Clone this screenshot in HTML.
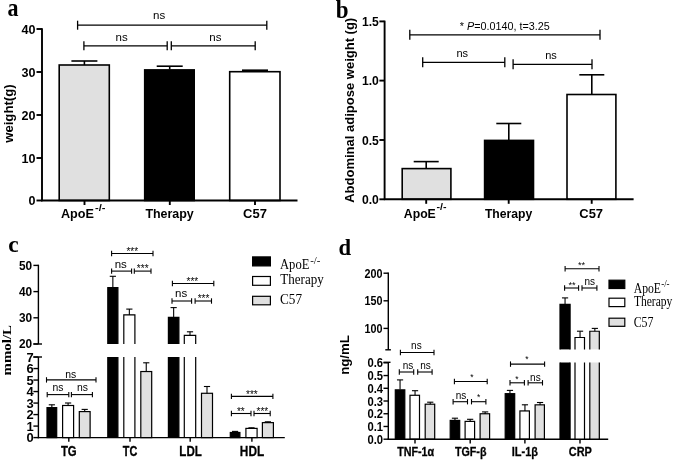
<!DOCTYPE html>
<html><head><meta charset="utf-8"><title>Figure</title>
<style>
html,body{margin:0;padding:0;background:#fff;}
svg{display:block;}
</style></head>
<body>
<svg width="675" height="461" viewBox="0 0 675 461">
<defs><filter id="soft" x="0" y="0" width="675" height="461" filterUnits="userSpaceOnUse"><feGaussianBlur stdDeviation="0.45"/></filter></defs>
<rect width="675" height="461" fill="#fff"/>
<g filter="url(#soft)">
<text x="7.60" y="15.60" font-family='"Liberation Serif", serif' font-size="24.5" font-weight="bold" text-anchor="start" textLength="11.00" lengthAdjust="spacingAndGlyphs" >a</text>
<rect x="59.20" y="65.00" width="50.10" height="135.50" fill="#e0e0e0" stroke="#000" stroke-width="1.6"/>
<rect x="144.70" y="69.90" width="49.50" height="130.60" fill="#000" stroke="#000" stroke-width="1.6"/>
<rect x="229.70" y="71.70" width="50.30" height="128.80" fill="#fff" stroke="#000" stroke-width="1.6"/>
<line x1="84.40" y1="61.00" x2="84.40" y2="65.00" stroke="#000" stroke-width="1.6" stroke-linecap="butt"/>
<line x1="71.40" y1="61.00" x2="97.40" y2="61.00" stroke="#000" stroke-width="1.6" stroke-linecap="butt"/>
<line x1="169.70" y1="66.20" x2="169.70" y2="69.50" stroke="#000" stroke-width="1.6" stroke-linecap="butt"/>
<line x1="156.70" y1="66.20" x2="182.70" y2="66.20" stroke="#000" stroke-width="1.6" stroke-linecap="butt"/>
<line x1="255.00" y1="70.20" x2="255.00" y2="71.70" stroke="#000" stroke-width="1.6" stroke-linecap="butt"/>
<line x1="242.00" y1="70.20" x2="268.00" y2="70.20" stroke="#000" stroke-width="1.6" stroke-linecap="butt"/>
<line x1="42.00" y1="28.25" x2="42.00" y2="201.25" stroke="#000" stroke-width="1.9" stroke-linecap="butt"/>
<line x1="41.25" y1="200.50" x2="297.50" y2="200.50" stroke="#000" stroke-width="1.9" stroke-linecap="butt"/>
<line x1="36.50" y1="29.00" x2="42.00" y2="29.00" stroke="#000" stroke-width="1.9" stroke-linecap="butt"/>
<text x="35.40" y="33.50" font-family='"Liberation Sans", sans-serif' font-size="12.6" font-weight="bold" text-anchor="end" textLength="14.00" lengthAdjust="spacingAndGlyphs" >40</text>
<line x1="36.50" y1="72.00" x2="42.00" y2="72.00" stroke="#000" stroke-width="1.9" stroke-linecap="butt"/>
<text x="35.40" y="76.50" font-family='"Liberation Sans", sans-serif' font-size="12.6" font-weight="bold" text-anchor="end" textLength="14.00" lengthAdjust="spacingAndGlyphs" >30</text>
<line x1="36.50" y1="115.00" x2="42.00" y2="115.00" stroke="#000" stroke-width="1.9" stroke-linecap="butt"/>
<text x="35.40" y="119.50" font-family='"Liberation Sans", sans-serif' font-size="12.6" font-weight="bold" text-anchor="end" textLength="14.00" lengthAdjust="spacingAndGlyphs" >20</text>
<line x1="36.50" y1="158.00" x2="42.00" y2="158.00" stroke="#000" stroke-width="1.9" stroke-linecap="butt"/>
<text x="35.40" y="162.50" font-family='"Liberation Sans", sans-serif' font-size="12.6" font-weight="bold" text-anchor="end" textLength="14.00" lengthAdjust="spacingAndGlyphs" >10</text>
<line x1="36.50" y1="200.50" x2="42.00" y2="200.50" stroke="#000" stroke-width="1.9" stroke-linecap="butt"/>
<text x="35.40" y="205.00" font-family='"Liberation Sans", sans-serif' font-size="12.6" font-weight="bold" text-anchor="end" textLength="7.00" lengthAdjust="spacingAndGlyphs" >0</text>
<line x1="84.50" y1="200.50" x2="84.50" y2="205.00" stroke="#000" stroke-width="1.9" stroke-linecap="butt"/>
<line x1="169.80" y1="200.50" x2="169.80" y2="205.00" stroke="#000" stroke-width="1.9" stroke-linecap="butt"/>
<line x1="255.00" y1="200.50" x2="255.00" y2="205.00" stroke="#000" stroke-width="1.9" stroke-linecap="butt"/>
<text font-family='"Liberation Sans", sans-serif' font-size="12.6" font-weight="bold" text-anchor="middle" textLength="58.50" lengthAdjust="spacingAndGlyphs" transform="translate(13.20 113.60) rotate(-90)" >weight(g)</text>
<text x="61.00" y="218.00" font-family='"Liberation Sans", sans-serif' font-size="13" font-weight="bold" text-anchor="start" textLength="33.00" lengthAdjust="spacingAndGlyphs" >ApoE</text>
<text x="95.00" y="210.60" font-family='"Liberation Sans", sans-serif' font-size="9" font-weight="bold" text-anchor="start" textLength="10.40" lengthAdjust="spacingAndGlyphs" >-/-</text>
<text x="169.60" y="218.00" font-family='"Liberation Sans", sans-serif' font-size="13" font-weight="bold" text-anchor="middle" textLength="48.40" lengthAdjust="spacingAndGlyphs" >Therapy</text>
<text x="255.00" y="218.00" font-family='"Liberation Sans", sans-serif' font-size="13" font-weight="bold" text-anchor="middle" textLength="23.80" lengthAdjust="spacingAndGlyphs" >C57</text>
<line x1="77.60" y1="25.20" x2="266.80" y2="25.20" stroke="#000" stroke-width="1.3" stroke-linecap="butt"/>
<line x1="77.60" y1="20.70" x2="77.60" y2="29.70" stroke="#000" stroke-width="1.3" stroke-linecap="butt"/>
<line x1="266.80" y1="20.70" x2="266.80" y2="29.70" stroke="#000" stroke-width="1.3" stroke-linecap="butt"/>
<text x="159.20" y="19.40" font-family='"Liberation Sans", sans-serif' font-size="11.5" font-weight="normal" text-anchor="middle" >ns</text>
<line x1="83.90" y1="45.80" x2="167.20" y2="45.80" stroke="#000" stroke-width="1.3" stroke-linecap="butt"/>
<line x1="83.90" y1="41.30" x2="83.90" y2="50.30" stroke="#000" stroke-width="1.3" stroke-linecap="butt"/>
<line x1="167.20" y1="41.30" x2="167.20" y2="50.30" stroke="#000" stroke-width="1.3" stroke-linecap="butt"/>
<line x1="171.30" y1="45.80" x2="255.20" y2="45.80" stroke="#000" stroke-width="1.3" stroke-linecap="butt"/>
<line x1="171.30" y1="41.30" x2="171.30" y2="50.30" stroke="#000" stroke-width="1.3" stroke-linecap="butt"/>
<line x1="255.20" y1="41.30" x2="255.20" y2="50.30" stroke="#000" stroke-width="1.3" stroke-linecap="butt"/>
<text x="121.70" y="41.40" font-family='"Liberation Sans", sans-serif' font-size="11.5" font-weight="normal" text-anchor="middle" >ns</text>
<text x="215.40" y="41.40" font-family='"Liberation Sans", sans-serif' font-size="11.5" font-weight="normal" text-anchor="middle" >ns</text>
<text x="335.80" y="18.00" font-family='"Liberation Serif", serif' font-size="24.5" font-weight="bold" text-anchor="start" textLength="12.80" lengthAdjust="spacingAndGlyphs" >b</text>
<rect x="402.20" y="168.60" width="48.70" height="30.70" fill="#e0e0e0" stroke="#000" stroke-width="1.6"/>
<rect x="484.60" y="140.40" width="48.90" height="58.90" fill="#000" stroke="#000" stroke-width="1.6"/>
<rect x="567.00" y="94.50" width="48.90" height="104.80" fill="#fff" stroke="#000" stroke-width="1.6"/>
<line x1="426.20" y1="161.60" x2="426.20" y2="168.60" stroke="#000" stroke-width="1.6" stroke-linecap="butt"/>
<line x1="413.70" y1="161.60" x2="438.70" y2="161.60" stroke="#000" stroke-width="1.6" stroke-linecap="butt"/>
<line x1="508.80" y1="123.50" x2="508.80" y2="140.00" stroke="#000" stroke-width="1.6" stroke-linecap="butt"/>
<line x1="496.30" y1="123.50" x2="521.30" y2="123.50" stroke="#000" stroke-width="1.6" stroke-linecap="butt"/>
<line x1="591.80" y1="74.80" x2="591.80" y2="94.50" stroke="#000" stroke-width="1.6" stroke-linecap="butt"/>
<line x1="579.30" y1="74.80" x2="604.30" y2="74.80" stroke="#000" stroke-width="1.6" stroke-linecap="butt"/>
<line x1="384.60" y1="20.65" x2="384.60" y2="200.05" stroke="#000" stroke-width="1.9" stroke-linecap="butt"/>
<line x1="383.85" y1="199.30" x2="633.60" y2="199.30" stroke="#000" stroke-width="1.9" stroke-linecap="butt"/>
<line x1="379.40" y1="21.40" x2="384.60" y2="21.40" stroke="#000" stroke-width="1.9" stroke-linecap="butt"/>
<text x="378.80" y="26.00" font-family='"Liberation Sans", sans-serif' font-size="13.2" font-weight="bold" text-anchor="end" textLength="16.90" lengthAdjust="spacingAndGlyphs" >1.5</text>
<line x1="379.40" y1="80.60" x2="384.60" y2="80.60" stroke="#000" stroke-width="1.9" stroke-linecap="butt"/>
<text x="378.80" y="85.20" font-family='"Liberation Sans", sans-serif' font-size="13.2" font-weight="bold" text-anchor="end" textLength="16.90" lengthAdjust="spacingAndGlyphs" >1.0</text>
<line x1="379.40" y1="140.00" x2="384.60" y2="140.00" stroke="#000" stroke-width="1.9" stroke-linecap="butt"/>
<text x="378.80" y="144.60" font-family='"Liberation Sans", sans-serif' font-size="13.2" font-weight="bold" text-anchor="end" textLength="16.90" lengthAdjust="spacingAndGlyphs" >0.5</text>
<line x1="379.40" y1="199.30" x2="384.60" y2="199.30" stroke="#000" stroke-width="1.9" stroke-linecap="butt"/>
<text x="378.80" y="203.90" font-family='"Liberation Sans", sans-serif' font-size="13.2" font-weight="bold" text-anchor="end" textLength="16.90" lengthAdjust="spacingAndGlyphs" >0.0</text>
<line x1="426.20" y1="199.30" x2="426.20" y2="203.80" stroke="#000" stroke-width="1.9" stroke-linecap="butt"/>
<line x1="508.70" y1="199.30" x2="508.70" y2="203.80" stroke="#000" stroke-width="1.9" stroke-linecap="butt"/>
<line x1="591.70" y1="199.30" x2="591.70" y2="203.80" stroke="#000" stroke-width="1.9" stroke-linecap="butt"/>
<text font-family='"Liberation Sans", sans-serif' font-size="12.6" font-weight="bold" text-anchor="middle" textLength="185.00" lengthAdjust="spacingAndGlyphs" transform="translate(353.80 110.30) rotate(-90)" >Abdominal adipose weight (g)</text>
<text x="403.80" y="217.50" font-family='"Liberation Sans", sans-serif' font-size="13" font-weight="bold" text-anchor="start" textLength="32.00" lengthAdjust="spacingAndGlyphs" >ApoE</text>
<text x="436.60" y="210.20" font-family='"Liberation Sans", sans-serif' font-size="9" font-weight="bold" text-anchor="start" textLength="10.00" lengthAdjust="spacingAndGlyphs" >-/-</text>
<text x="508.60" y="217.50" font-family='"Liberation Sans", sans-serif' font-size="13" font-weight="bold" text-anchor="middle" textLength="47.40" lengthAdjust="spacingAndGlyphs" >Therapy</text>
<text x="591.20" y="217.50" font-family='"Liberation Sans", sans-serif' font-size="13" font-weight="bold" text-anchor="middle" textLength="23.80" lengthAdjust="spacingAndGlyphs" >C57</text>
<line x1="409.80" y1="34.80" x2="600.00" y2="34.80" stroke="#000" stroke-width="1.3" stroke-linecap="butt"/>
<line x1="409.80" y1="29.80" x2="409.80" y2="39.80" stroke="#000" stroke-width="1.3" stroke-linecap="butt"/>
<line x1="600.00" y1="29.80" x2="600.00" y2="39.80" stroke="#000" stroke-width="1.3" stroke-linecap="butt"/>
<text x="459.8" y="29.6" font-family='"Liberation Sans", sans-serif' font-size="10.8" textLength="90" lengthAdjust="spacingAndGlyphs">* <tspan font-style="italic">P</tspan>=0.0140, t=3.25</text>
<line x1="422.70" y1="62.30" x2="504.80" y2="62.30" stroke="#000" stroke-width="1.3" stroke-linecap="butt"/>
<line x1="422.70" y1="57.30" x2="422.70" y2="67.30" stroke="#000" stroke-width="1.3" stroke-linecap="butt"/>
<line x1="504.80" y1="57.30" x2="504.80" y2="67.30" stroke="#000" stroke-width="1.3" stroke-linecap="butt"/>
<line x1="513.10" y1="64.30" x2="592.00" y2="64.30" stroke="#000" stroke-width="1.3" stroke-linecap="butt"/>
<line x1="513.10" y1="59.30" x2="513.10" y2="69.30" stroke="#000" stroke-width="1.3" stroke-linecap="butt"/>
<line x1="592.00" y1="59.30" x2="592.00" y2="69.30" stroke="#000" stroke-width="1.3" stroke-linecap="butt"/>
<text x="462.20" y="57.00" font-family='"Liberation Sans", sans-serif' font-size="11" font-weight="normal" text-anchor="middle" >ns</text>
<text x="551.00" y="59.00" font-family='"Liberation Sans", sans-serif' font-size="11" font-weight="normal" text-anchor="middle" >ns</text>
<text x="8.20" y="252.00" font-family='"Liberation Serif", serif' font-size="23.5" font-weight="bold" text-anchor="start" textLength="10.40" lengthAdjust="spacingAndGlyphs" >c</text>
<rect x="47.00" y="407.63" width="9.70" height="29.97" fill="#000" stroke="#000" stroke-width="1.2"/>
<line x1="51.85" y1="404.80" x2="51.85" y2="407.33" stroke="#000" stroke-width="1.1" stroke-linecap="butt"/>
<line x1="48.75" y1="404.80" x2="54.95" y2="404.80" stroke="#000" stroke-width="1.1" stroke-linecap="butt"/>
<rect x="62.60" y="405.49" width="11.00" height="32.11" fill="#fff" stroke="#000" stroke-width="1.2"/>
<line x1="68.10" y1="403.00" x2="68.10" y2="405.49" stroke="#000" stroke-width="1.1" stroke-linecap="butt"/>
<line x1="65.00" y1="403.00" x2="71.20" y2="403.00" stroke="#000" stroke-width="1.1" stroke-linecap="butt"/>
<rect x="79.30" y="411.59" width="10.80" height="26.01" fill="#e0e0e0" stroke="#000" stroke-width="1.2"/>
<line x1="84.70" y1="409.40" x2="84.70" y2="411.59" stroke="#000" stroke-width="1.1" stroke-linecap="butt"/>
<line x1="81.60" y1="409.40" x2="87.80" y2="409.40" stroke="#000" stroke-width="1.1" stroke-linecap="butt"/>
<rect x="107.80" y="287.67" width="10.10" height="56.33" fill="#000"/>
<path d="M107.80 344.00V287.67H117.90V344.00" fill="none" stroke="#000" stroke-width="1.2"/>
<rect x="107.80" y="357.00" width="10.10" height="80.60" fill="#000"/>
<path d="M107.80 357.00V437.60M117.90 357.00V437.60" fill="none" stroke="#000" stroke-width="1.2"/>
<line x1="112.85" y1="276.30" x2="112.85" y2="287.67" stroke="#000" stroke-width="1.1" stroke-linecap="butt"/>
<line x1="109.75" y1="276.30" x2="115.95" y2="276.30" stroke="#000" stroke-width="1.1" stroke-linecap="butt"/>
<rect x="123.80" y="314.92" width="11.10" height="29.08" fill="#fff"/>
<path d="M123.80 344.00V314.92H134.90V344.00" fill="none" stroke="#000" stroke-width="1.2"/>
<rect x="123.80" y="357.00" width="11.10" height="80.60" fill="#fff"/>
<path d="M123.80 357.00V437.60M134.90 357.00V437.60" fill="none" stroke="#000" stroke-width="1.2"/>
<line x1="129.35" y1="309.10" x2="129.35" y2="314.92" stroke="#000" stroke-width="1.1" stroke-linecap="butt"/>
<line x1="126.25" y1="309.10" x2="132.45" y2="309.10" stroke="#000" stroke-width="1.1" stroke-linecap="butt"/>
<rect x="140.80" y="371.53" width="10.90" height="66.07" fill="#e0e0e0" stroke="#000" stroke-width="1.2"/>
<line x1="146.25" y1="362.80" x2="146.25" y2="371.53" stroke="#000" stroke-width="1.1" stroke-linecap="butt"/>
<line x1="143.15" y1="362.80" x2="149.35" y2="362.80" stroke="#000" stroke-width="1.1" stroke-linecap="butt"/>
<rect x="168.40" y="317.28" width="10.50" height="26.72" fill="#000"/>
<path d="M168.40 344.00V317.28H178.90V344.00" fill="none" stroke="#000" stroke-width="1.2"/>
<rect x="168.40" y="357.00" width="10.50" height="80.60" fill="#000"/>
<path d="M168.40 357.00V437.60M178.90 357.00V437.60" fill="none" stroke="#000" stroke-width="1.2"/>
<line x1="173.65" y1="307.60" x2="173.65" y2="317.28" stroke="#000" stroke-width="1.1" stroke-linecap="butt"/>
<line x1="170.55" y1="307.60" x2="176.75" y2="307.60" stroke="#000" stroke-width="1.1" stroke-linecap="butt"/>
<rect x="184.30" y="335.35" width="11.40" height="8.65" fill="#fff"/>
<path d="M184.30 344.00V335.35H195.70V344.00" fill="none" stroke="#000" stroke-width="1.2"/>
<rect x="184.30" y="357.00" width="11.40" height="80.60" fill="#fff"/>
<path d="M184.30 357.00V437.60M195.70 357.00V437.60" fill="none" stroke="#000" stroke-width="1.2"/>
<line x1="190.00" y1="331.80" x2="190.00" y2="335.35" stroke="#000" stroke-width="1.1" stroke-linecap="butt"/>
<line x1="186.90" y1="331.80" x2="193.10" y2="331.80" stroke="#000" stroke-width="1.1" stroke-linecap="butt"/>
<rect x="201.50" y="393.29" width="11.00" height="44.31" fill="#e0e0e0" stroke="#000" stroke-width="1.2"/>
<line x1="207.00" y1="386.50" x2="207.00" y2="393.29" stroke="#000" stroke-width="1.1" stroke-linecap="butt"/>
<line x1="203.90" y1="386.50" x2="210.10" y2="386.50" stroke="#000" stroke-width="1.1" stroke-linecap="butt"/>
<rect x="230.30" y="432.49" width="9.60" height="5.11" fill="#000" stroke="#000" stroke-width="1.2"/>
<line x1="235.10" y1="431.40" x2="235.10" y2="432.19" stroke="#000" stroke-width="1.1" stroke-linecap="butt"/>
<line x1="232.00" y1="431.40" x2="238.20" y2="431.40" stroke="#000" stroke-width="1.1" stroke-linecap="butt"/>
<rect x="245.90" y="428.39" width="11.20" height="9.21" fill="#fff" stroke="#000" stroke-width="1.2"/>
<line x1="251.50" y1="427.80" x2="251.50" y2="428.39" stroke="#000" stroke-width="1.1" stroke-linecap="butt"/>
<line x1="248.40" y1="427.80" x2="254.60" y2="427.80" stroke="#000" stroke-width="1.1" stroke-linecap="butt"/>
<rect x="262.40" y="422.64" width="11.00" height="14.96" fill="#e0e0e0" stroke="#000" stroke-width="1.2"/>
<line x1="267.90" y1="421.80" x2="267.90" y2="422.64" stroke="#000" stroke-width="1.1" stroke-linecap="butt"/>
<line x1="264.80" y1="421.80" x2="271.00" y2="421.80" stroke="#000" stroke-width="1.1" stroke-linecap="butt"/>
<line x1="38.40" y1="264.70" x2="38.40" y2="344.00" stroke="#000" stroke-width="1.4" stroke-linecap="butt"/>
<line x1="38.40" y1="357.00" x2="38.40" y2="438.30" stroke="#000" stroke-width="1.4" stroke-linecap="butt"/>
<line x1="37.70" y1="437.60" x2="284.80" y2="437.60" stroke="#000" stroke-width="1.4" stroke-linecap="butt"/>
<line x1="33.40" y1="344.00" x2="42.00" y2="344.00" stroke="#000" stroke-width="1.4" stroke-linecap="butt"/>
<line x1="33.40" y1="357.00" x2="42.00" y2="357.00" stroke="#000" stroke-width="1.4" stroke-linecap="butt"/>
<line x1="33.40" y1="265.40" x2="38.40" y2="265.40" stroke="#000" stroke-width="1.4" stroke-linecap="butt"/>
<text x="32.20" y="269.60" font-family='"Liberation Sans", sans-serif' font-size="12" font-weight="bold" text-anchor="end" textLength="13.20" lengthAdjust="spacingAndGlyphs" >50</text>
<line x1="33.40" y1="291.60" x2="38.40" y2="291.60" stroke="#000" stroke-width="1.4" stroke-linecap="butt"/>
<text x="32.20" y="295.80" font-family='"Liberation Sans", sans-serif' font-size="12" font-weight="bold" text-anchor="end" textLength="13.20" lengthAdjust="spacingAndGlyphs" >40</text>
<line x1="33.40" y1="317.80" x2="38.40" y2="317.80" stroke="#000" stroke-width="1.4" stroke-linecap="butt"/>
<text x="32.20" y="322.00" font-family='"Liberation Sans", sans-serif' font-size="12" font-weight="bold" text-anchor="end" textLength="13.20" lengthAdjust="spacingAndGlyphs" >30</text>
<line x1="33.40" y1="344.00" x2="38.40" y2="344.00" stroke="#000" stroke-width="1.4" stroke-linecap="butt"/>
<text x="32.20" y="348.20" font-family='"Liberation Sans", sans-serif' font-size="12" font-weight="bold" text-anchor="end" textLength="13.20" lengthAdjust="spacingAndGlyphs" >20</text>
<line x1="33.40" y1="437.60" x2="38.40" y2="437.60" stroke="#000" stroke-width="1.4" stroke-linecap="butt"/>
<text x="33.80" y="442.40" font-family='"Liberation Sans", sans-serif' font-size="13" font-weight="bold" text-anchor="end" textLength="7.20" lengthAdjust="spacingAndGlyphs" >0</text>
<line x1="33.40" y1="426.09" x2="38.40" y2="426.09" stroke="#000" stroke-width="1.4" stroke-linecap="butt"/>
<text x="33.80" y="430.89" font-family='"Liberation Sans", sans-serif' font-size="13" font-weight="bold" text-anchor="end" textLength="7.20" lengthAdjust="spacingAndGlyphs" >1</text>
<line x1="33.40" y1="414.58" x2="38.40" y2="414.58" stroke="#000" stroke-width="1.4" stroke-linecap="butt"/>
<text x="33.80" y="419.38" font-family='"Liberation Sans", sans-serif' font-size="13" font-weight="bold" text-anchor="end" textLength="7.20" lengthAdjust="spacingAndGlyphs" >2</text>
<line x1="33.40" y1="403.07" x2="38.40" y2="403.07" stroke="#000" stroke-width="1.4" stroke-linecap="butt"/>
<text x="33.80" y="407.87" font-family='"Liberation Sans", sans-serif' font-size="13" font-weight="bold" text-anchor="end" textLength="7.20" lengthAdjust="spacingAndGlyphs" >3</text>
<line x1="33.40" y1="391.56" x2="38.40" y2="391.56" stroke="#000" stroke-width="1.4" stroke-linecap="butt"/>
<text x="33.80" y="396.36" font-family='"Liberation Sans", sans-serif' font-size="13" font-weight="bold" text-anchor="end" textLength="7.20" lengthAdjust="spacingAndGlyphs" >4</text>
<line x1="33.40" y1="380.05" x2="38.40" y2="380.05" stroke="#000" stroke-width="1.4" stroke-linecap="butt"/>
<text x="33.80" y="384.85" font-family='"Liberation Sans", sans-serif' font-size="13" font-weight="bold" text-anchor="end" textLength="7.20" lengthAdjust="spacingAndGlyphs" >5</text>
<line x1="33.40" y1="368.54" x2="38.40" y2="368.54" stroke="#000" stroke-width="1.4" stroke-linecap="butt"/>
<text x="33.80" y="373.34" font-family='"Liberation Sans", sans-serif' font-size="13" font-weight="bold" text-anchor="end" textLength="7.20" lengthAdjust="spacingAndGlyphs" >6</text>
<line x1="33.40" y1="357.03" x2="38.40" y2="357.03" stroke="#000" stroke-width="1.4" stroke-linecap="butt"/>
<text x="33.80" y="361.83" font-family='"Liberation Sans", sans-serif' font-size="13" font-weight="bold" text-anchor="end" textLength="7.20" lengthAdjust="spacingAndGlyphs" >7</text>
<line x1="68.80" y1="437.60" x2="68.80" y2="441.80" stroke="#000" stroke-width="1.4" stroke-linecap="butt"/>
<line x1="130.00" y1="437.60" x2="130.00" y2="441.80" stroke="#000" stroke-width="1.4" stroke-linecap="butt"/>
<line x1="190.20" y1="437.60" x2="190.20" y2="441.80" stroke="#000" stroke-width="1.4" stroke-linecap="butt"/>
<line x1="251.90" y1="437.60" x2="251.90" y2="441.80" stroke="#000" stroke-width="1.4" stroke-linecap="butt"/>
<text font-family='"Liberation Serif", serif' font-size="11.5" font-weight="bold" text-anchor="middle" textLength="50.50" lengthAdjust="spacingAndGlyphs" transform="translate(11.10 350.30) rotate(-90)" >mmol/L</text>
<text x="68.80" y="455.90" font-family='"Liberation Sans", sans-serif' font-size="14.8" font-weight="bold" text-anchor="middle" textLength="15.80" lengthAdjust="spacingAndGlyphs" stroke="#000" stroke-width="0.3">TG</text>
<text x="130.00" y="455.90" font-family='"Liberation Sans", sans-serif' font-size="14.8" font-weight="bold" text-anchor="middle" textLength="14.50" lengthAdjust="spacingAndGlyphs" stroke="#000" stroke-width="0.3">TC</text>
<text x="190.60" y="455.90" font-family='"Liberation Sans", sans-serif' font-size="14.8" font-weight="bold" text-anchor="middle" textLength="22.50" lengthAdjust="spacingAndGlyphs" stroke="#000" stroke-width="0.3">LDL</text>
<text x="252.00" y="455.90" font-family='"Liberation Sans", sans-serif' font-size="14.8" font-weight="bold" text-anchor="middle" textLength="24.30" lengthAdjust="spacingAndGlyphs" stroke="#000" stroke-width="0.3">HDL</text>
<line x1="46.50" y1="379.90" x2="96.00" y2="379.90" stroke="#000" stroke-width="1.1" stroke-linecap="butt"/>
<line x1="46.50" y1="377.20" x2="46.50" y2="382.60" stroke="#000" stroke-width="1.1" stroke-linecap="butt"/>
<line x1="96.00" y1="377.20" x2="96.00" y2="382.60" stroke="#000" stroke-width="1.1" stroke-linecap="butt"/>
<text x="70.70" y="378.00" font-family='"Liberation Sans", sans-serif' font-size="10.4" font-weight="normal" text-anchor="middle" >ns</text>
<line x1="47.20" y1="394.60" x2="68.80" y2="394.60" stroke="#000" stroke-width="1.1" stroke-linecap="butt"/>
<line x1="47.20" y1="391.90" x2="47.20" y2="397.30" stroke="#000" stroke-width="1.1" stroke-linecap="butt"/>
<line x1="68.80" y1="391.90" x2="68.80" y2="397.30" stroke="#000" stroke-width="1.1" stroke-linecap="butt"/>
<line x1="71.40" y1="394.60" x2="92.40" y2="394.60" stroke="#000" stroke-width="1.1" stroke-linecap="butt"/>
<line x1="71.40" y1="391.90" x2="71.40" y2="397.30" stroke="#000" stroke-width="1.1" stroke-linecap="butt"/>
<line x1="92.40" y1="391.90" x2="92.40" y2="397.30" stroke="#000" stroke-width="1.1" stroke-linecap="butt"/>
<text x="57.90" y="390.80" font-family='"Liberation Sans", sans-serif' font-size="10.4" font-weight="normal" text-anchor="middle" >ns</text>
<text x="82.50" y="390.80" font-family='"Liberation Sans", sans-serif' font-size="10.4" font-weight="normal" text-anchor="middle" >ns</text>
<line x1="111.60" y1="253.50" x2="153.00" y2="253.50" stroke="#000" stroke-width="1.1" stroke-linecap="butt"/>
<line x1="111.60" y1="250.80" x2="111.60" y2="256.20" stroke="#000" stroke-width="1.1" stroke-linecap="butt"/>
<line x1="153.00" y1="250.80" x2="153.00" y2="256.20" stroke="#000" stroke-width="1.1" stroke-linecap="butt"/>
<text x="132.30" y="254.80" font-family='"Liberation Sans", sans-serif' font-size="10" font-weight="normal" text-anchor="middle" >***</text>
<line x1="111.60" y1="271.10" x2="131.60" y2="271.10" stroke="#000" stroke-width="1.1" stroke-linecap="butt"/>
<line x1="111.60" y1="268.40" x2="111.60" y2="273.80" stroke="#000" stroke-width="1.1" stroke-linecap="butt"/>
<line x1="131.60" y1="268.40" x2="131.60" y2="273.80" stroke="#000" stroke-width="1.1" stroke-linecap="butt"/>
<line x1="134.30" y1="271.10" x2="151.00" y2="271.10" stroke="#000" stroke-width="1.1" stroke-linecap="butt"/>
<line x1="134.30" y1="268.40" x2="134.30" y2="273.80" stroke="#000" stroke-width="1.1" stroke-linecap="butt"/>
<line x1="151.00" y1="268.40" x2="151.00" y2="273.80" stroke="#000" stroke-width="1.1" stroke-linecap="butt"/>
<text x="120.80" y="267.60" font-family='"Liberation Sans", sans-serif' font-size="11.5" font-weight="normal" text-anchor="middle" >ns</text>
<text x="142.70" y="271.70" font-family='"Liberation Sans", sans-serif' font-size="10" font-weight="normal" text-anchor="middle" >***</text>
<line x1="172.40" y1="283.50" x2="213.80" y2="283.50" stroke="#000" stroke-width="1.1" stroke-linecap="butt"/>
<line x1="172.40" y1="280.80" x2="172.40" y2="286.20" stroke="#000" stroke-width="1.1" stroke-linecap="butt"/>
<line x1="213.80" y1="280.80" x2="213.80" y2="286.20" stroke="#000" stroke-width="1.1" stroke-linecap="butt"/>
<text x="192.40" y="285.00" font-family='"Liberation Sans", sans-serif' font-size="10" font-weight="normal" text-anchor="middle" >***</text>
<line x1="172.00" y1="301.00" x2="191.60" y2="301.00" stroke="#000" stroke-width="1.1" stroke-linecap="butt"/>
<line x1="172.00" y1="298.30" x2="172.00" y2="303.70" stroke="#000" stroke-width="1.1" stroke-linecap="butt"/>
<line x1="191.60" y1="298.30" x2="191.60" y2="303.70" stroke="#000" stroke-width="1.1" stroke-linecap="butt"/>
<line x1="195.10" y1="301.00" x2="211.50" y2="301.00" stroke="#000" stroke-width="1.1" stroke-linecap="butt"/>
<line x1="195.10" y1="298.30" x2="195.10" y2="303.70" stroke="#000" stroke-width="1.1" stroke-linecap="butt"/>
<line x1="211.50" y1="298.30" x2="211.50" y2="303.70" stroke="#000" stroke-width="1.1" stroke-linecap="butt"/>
<text x="181.20" y="297.20" font-family='"Liberation Sans", sans-serif' font-size="11.5" font-weight="normal" text-anchor="middle" >ns</text>
<text x="203.50" y="301.50" font-family='"Liberation Sans", sans-serif' font-size="10" font-weight="normal" text-anchor="middle" >***</text>
<line x1="231.40" y1="396.40" x2="272.90" y2="396.40" stroke="#000" stroke-width="1.1" stroke-linecap="butt"/>
<line x1="231.40" y1="393.70" x2="231.40" y2="399.10" stroke="#000" stroke-width="1.1" stroke-linecap="butt"/>
<line x1="272.90" y1="393.70" x2="272.90" y2="399.10" stroke="#000" stroke-width="1.1" stroke-linecap="butt"/>
<text x="251.90" y="398.00" font-family='"Liberation Sans", sans-serif' font-size="10" font-weight="normal" text-anchor="middle" >***</text>
<line x1="231.40" y1="413.50" x2="251.00" y2="413.50" stroke="#000" stroke-width="1.1" stroke-linecap="butt"/>
<line x1="231.40" y1="410.80" x2="231.40" y2="416.20" stroke="#000" stroke-width="1.1" stroke-linecap="butt"/>
<line x1="251.00" y1="410.80" x2="251.00" y2="416.20" stroke="#000" stroke-width="1.1" stroke-linecap="butt"/>
<line x1="254.00" y1="413.50" x2="270.20" y2="413.50" stroke="#000" stroke-width="1.1" stroke-linecap="butt"/>
<line x1="254.00" y1="410.80" x2="254.00" y2="416.20" stroke="#000" stroke-width="1.1" stroke-linecap="butt"/>
<line x1="270.20" y1="410.80" x2="270.20" y2="416.20" stroke="#000" stroke-width="1.1" stroke-linecap="butt"/>
<text x="240.80" y="414.50" font-family='"Liberation Sans", sans-serif' font-size="10" font-weight="normal" text-anchor="middle" >**</text>
<text x="262.40" y="414.50" font-family='"Liberation Sans", sans-serif' font-size="10" font-weight="normal" text-anchor="middle" >***</text>
<rect x="252.60" y="256.90" width="17.80" height="9.00" fill="#000" stroke="#000" stroke-width="1.2"/>
<rect x="252.60" y="276.50" width="17.80" height="8.80" fill="#fff" stroke="#000" stroke-width="1.2"/>
<rect x="252.60" y="296.30" width="17.80" height="8.50" fill="#e0e0e0" stroke="#000" stroke-width="1.2"/>
<text x="280.00" y="269.30" font-family='"Liberation Serif", serif' font-size="14.5" font-weight="normal" text-anchor="start" textLength="29.40" lengthAdjust="spacingAndGlyphs" >ApoE</text>
<text x="310.20" y="263.60" font-family='"Liberation Serif", serif' font-size="10.5" font-weight="normal" text-anchor="start" textLength="10.20" lengthAdjust="spacingAndGlyphs" >-/-</text>
<text x="280.30" y="284.30" font-family='"Liberation Serif", serif' font-size="14.5" font-weight="normal" text-anchor="start" textLength="43.40" lengthAdjust="spacingAndGlyphs" >Therapy</text>
<text x="280.00" y="304.30" font-family='"Liberation Serif", serif' font-size="14.5" font-weight="normal" text-anchor="start" textLength="22.00" lengthAdjust="spacingAndGlyphs" >C57</text>
<text x="338.60" y="255.20" font-family='"Liberation Serif", serif' font-size="22.4" font-weight="bold" text-anchor="start" textLength="12.60" lengthAdjust="spacingAndGlyphs" >d</text>
<rect x="395.30" y="389.85" width="9.50" height="49.35" fill="#000" stroke="#000" stroke-width="1.2"/>
<line x1="400.05" y1="379.90" x2="400.05" y2="389.55" stroke="#000" stroke-width="1.1" stroke-linecap="butt"/>
<line x1="396.95" y1="379.90" x2="403.15" y2="379.90" stroke="#000" stroke-width="1.1" stroke-linecap="butt"/>
<rect x="410.00" y="395.28" width="9.50" height="43.92" fill="#fff" stroke="#000" stroke-width="1.2"/>
<line x1="415.05" y1="390.70" x2="415.05" y2="395.28" stroke="#000" stroke-width="1.1" stroke-linecap="butt"/>
<line x1="411.95" y1="390.70" x2="418.15" y2="390.70" stroke="#000" stroke-width="1.1" stroke-linecap="butt"/>
<rect x="425.20" y="404.19" width="9.50" height="35.01" fill="#e0e0e0" stroke="#000" stroke-width="1.2"/>
<line x1="430.25" y1="402.20" x2="430.25" y2="404.19" stroke="#000" stroke-width="1.1" stroke-linecap="butt"/>
<line x1="427.15" y1="402.20" x2="433.35" y2="402.20" stroke="#000" stroke-width="1.1" stroke-linecap="butt"/>
<rect x="450.20" y="420.41" width="9.50" height="18.79" fill="#000" stroke="#000" stroke-width="1.2"/>
<line x1="454.95" y1="418.20" x2="454.95" y2="420.11" stroke="#000" stroke-width="1.1" stroke-linecap="butt"/>
<line x1="451.85" y1="418.20" x2="458.05" y2="418.20" stroke="#000" stroke-width="1.1" stroke-linecap="butt"/>
<rect x="465.10" y="421.38" width="9.50" height="17.82" fill="#fff" stroke="#000" stroke-width="1.2"/>
<line x1="470.15" y1="419.30" x2="470.15" y2="421.38" stroke="#000" stroke-width="1.1" stroke-linecap="butt"/>
<line x1="467.05" y1="419.30" x2="473.25" y2="419.30" stroke="#000" stroke-width="1.1" stroke-linecap="butt"/>
<rect x="480.10" y="413.74" width="9.50" height="25.46" fill="#e0e0e0" stroke="#000" stroke-width="1.2"/>
<line x1="485.15" y1="411.90" x2="485.15" y2="413.74" stroke="#000" stroke-width="1.1" stroke-linecap="butt"/>
<line x1="482.05" y1="411.90" x2="488.25" y2="411.90" stroke="#000" stroke-width="1.1" stroke-linecap="butt"/>
<rect x="505.20" y="393.67" width="9.50" height="45.53" fill="#000" stroke="#000" stroke-width="1.2"/>
<line x1="509.95" y1="390.40" x2="509.95" y2="393.37" stroke="#000" stroke-width="1.1" stroke-linecap="butt"/>
<line x1="506.85" y1="390.40" x2="513.05" y2="390.40" stroke="#000" stroke-width="1.1" stroke-linecap="butt"/>
<rect x="519.90" y="410.94" width="9.50" height="28.26" fill="#fff" stroke="#000" stroke-width="1.2"/>
<line x1="524.95" y1="404.80" x2="524.95" y2="410.94" stroke="#000" stroke-width="1.1" stroke-linecap="butt"/>
<line x1="521.85" y1="404.80" x2="528.05" y2="404.80" stroke="#000" stroke-width="1.1" stroke-linecap="butt"/>
<rect x="535.10" y="404.83" width="9.30" height="34.37" fill="#e0e0e0" stroke="#000" stroke-width="1.2"/>
<line x1="540.05" y1="402.50" x2="540.05" y2="404.83" stroke="#000" stroke-width="1.1" stroke-linecap="butt"/>
<line x1="536.95" y1="402.50" x2="543.15" y2="402.50" stroke="#000" stroke-width="1.1" stroke-linecap="butt"/>
<rect x="560.00" y="304.39" width="10.10" height="45.01" fill="#000"/>
<path d="M560.00 349.40V304.39H570.10V349.40" fill="none" stroke="#000" stroke-width="1.2"/>
<rect x="560.00" y="362.50" width="10.10" height="76.70" fill="#000"/>
<path d="M560.00 362.50V439.20M570.10 362.50V439.20" fill="none" stroke="#000" stroke-width="1.2"/>
<line x1="565.05" y1="297.90" x2="565.05" y2="304.39" stroke="#000" stroke-width="1.1" stroke-linecap="butt"/>
<line x1="561.95" y1="297.90" x2="568.15" y2="297.90" stroke="#000" stroke-width="1.1" stroke-linecap="butt"/>
<rect x="575.00" y="337.51" width="9.50" height="11.89" fill="#fff"/>
<path d="M575.00 349.40V337.51H584.50V349.40" fill="none" stroke="#000" stroke-width="1.2"/>
<rect x="575.00" y="362.50" width="9.50" height="76.70" fill="#fff"/>
<path d="M575.00 362.50V439.20M584.50 362.50V439.20" fill="none" stroke="#000" stroke-width="1.2"/>
<line x1="580.05" y1="331.20" x2="580.05" y2="337.51" stroke="#000" stroke-width="1.1" stroke-linecap="butt"/>
<line x1="576.95" y1="331.20" x2="583.15" y2="331.20" stroke="#000" stroke-width="1.1" stroke-linecap="butt"/>
<rect x="589.80" y="331.27" width="9.50" height="18.13" fill="#e0e0e0"/>
<path d="M589.80 349.40V331.27H599.30V349.40" fill="none" stroke="#000" stroke-width="1.2"/>
<rect x="589.80" y="362.50" width="9.50" height="76.70" fill="#e0e0e0"/>
<path d="M589.80 362.50V439.20M599.30 362.50V439.20" fill="none" stroke="#000" stroke-width="1.2"/>
<line x1="594.85" y1="328.40" x2="594.85" y2="331.27" stroke="#000" stroke-width="1.1" stroke-linecap="butt"/>
<line x1="591.75" y1="328.40" x2="597.95" y2="328.40" stroke="#000" stroke-width="1.1" stroke-linecap="butt"/>
<line x1="388.30" y1="272.50" x2="388.30" y2="349.80" stroke="#000" stroke-width="1.4" stroke-linecap="butt"/>
<line x1="388.30" y1="362.30" x2="388.30" y2="439.90" stroke="#000" stroke-width="1.4" stroke-linecap="butt"/>
<line x1="387.60" y1="439.20" x2="608.20" y2="439.20" stroke="#000" stroke-width="1.4" stroke-linecap="butt"/>
<line x1="385.30" y1="349.80" x2="390.90" y2="349.80" stroke="#000" stroke-width="1.4" stroke-linecap="butt"/>
<line x1="383.50" y1="362.30" x2="390.50" y2="362.30" stroke="#000" stroke-width="1.4" stroke-linecap="butt"/>
<line x1="383.50" y1="273.20" x2="388.30" y2="273.20" stroke="#000" stroke-width="1.4" stroke-linecap="butt"/>
<text x="382.60" y="277.60" font-family='"Liberation Sans", sans-serif' font-size="12.5" font-weight="bold" text-anchor="end" textLength="18.00" lengthAdjust="spacingAndGlyphs" >200</text>
<line x1="383.50" y1="300.80" x2="388.30" y2="300.80" stroke="#000" stroke-width="1.4" stroke-linecap="butt"/>
<text x="382.60" y="305.20" font-family='"Liberation Sans", sans-serif' font-size="12.5" font-weight="bold" text-anchor="end" textLength="18.00" lengthAdjust="spacingAndGlyphs" >150</text>
<line x1="383.50" y1="328.40" x2="388.30" y2="328.40" stroke="#000" stroke-width="1.4" stroke-linecap="butt"/>
<text x="382.60" y="332.80" font-family='"Liberation Sans", sans-serif' font-size="12.5" font-weight="bold" text-anchor="end" textLength="18.00" lengthAdjust="spacingAndGlyphs" >100</text>
<line x1="383.50" y1="439.20" x2="388.30" y2="439.20" stroke="#000" stroke-width="1.4" stroke-linecap="butt"/>
<text x="383.00" y="443.80" font-family='"Liberation Sans", sans-serif' font-size="13" font-weight="bold" text-anchor="end" textLength="15.60" lengthAdjust="spacingAndGlyphs" >0.0</text>
<line x1="383.50" y1="426.47" x2="388.30" y2="426.47" stroke="#000" stroke-width="1.4" stroke-linecap="butt"/>
<text x="383.00" y="431.07" font-family='"Liberation Sans", sans-serif' font-size="13" font-weight="bold" text-anchor="end" textLength="15.60" lengthAdjust="spacingAndGlyphs" >0.1</text>
<line x1="383.50" y1="413.74" x2="388.30" y2="413.74" stroke="#000" stroke-width="1.4" stroke-linecap="butt"/>
<text x="383.00" y="418.34" font-family='"Liberation Sans", sans-serif' font-size="13" font-weight="bold" text-anchor="end" textLength="15.60" lengthAdjust="spacingAndGlyphs" >0.2</text>
<line x1="383.50" y1="401.01" x2="388.30" y2="401.01" stroke="#000" stroke-width="1.4" stroke-linecap="butt"/>
<text x="383.00" y="405.61" font-family='"Liberation Sans", sans-serif' font-size="13" font-weight="bold" text-anchor="end" textLength="15.60" lengthAdjust="spacingAndGlyphs" >0.3</text>
<line x1="383.50" y1="388.28" x2="388.30" y2="388.28" stroke="#000" stroke-width="1.4" stroke-linecap="butt"/>
<text x="383.00" y="392.88" font-family='"Liberation Sans", sans-serif' font-size="13" font-weight="bold" text-anchor="end" textLength="15.60" lengthAdjust="spacingAndGlyphs" >0.4</text>
<line x1="383.50" y1="375.55" x2="388.30" y2="375.55" stroke="#000" stroke-width="1.4" stroke-linecap="butt"/>
<text x="383.00" y="380.15" font-family='"Liberation Sans", sans-serif' font-size="13" font-weight="bold" text-anchor="end" textLength="15.60" lengthAdjust="spacingAndGlyphs" >0.5</text>
<line x1="383.50" y1="362.82" x2="388.30" y2="362.82" stroke="#000" stroke-width="1.4" stroke-linecap="butt"/>
<text x="383.00" y="367.42" font-family='"Liberation Sans", sans-serif' font-size="13" font-weight="bold" text-anchor="end" textLength="15.60" lengthAdjust="spacingAndGlyphs" >0.6</text>
<line x1="415.00" y1="439.20" x2="415.00" y2="443.40" stroke="#000" stroke-width="1.4" stroke-linecap="butt"/>
<line x1="470.20" y1="439.20" x2="470.20" y2="443.40" stroke="#000" stroke-width="1.4" stroke-linecap="butt"/>
<line x1="524.90" y1="439.20" x2="524.90" y2="443.40" stroke="#000" stroke-width="1.4" stroke-linecap="butt"/>
<line x1="580.00" y1="439.20" x2="580.00" y2="443.40" stroke="#000" stroke-width="1.4" stroke-linecap="butt"/>
<text font-family='"Liberation Sans", sans-serif' font-size="12.6" font-weight="bold" text-anchor="middle" textLength="39.50" lengthAdjust="spacingAndGlyphs" transform="translate(349.00 355.00) rotate(-90)" >ng/mL</text>
<text x="415.70" y="455.60" font-family='"Liberation Sans", sans-serif' font-size="12.8" font-weight="bold" text-anchor="middle" textLength="37.00" lengthAdjust="spacingAndGlyphs" stroke="#000" stroke-width="0.3">TNF-1α</text>
<text x="470.70" y="455.60" font-family='"Liberation Sans", sans-serif' font-size="12.8" font-weight="bold" text-anchor="middle" textLength="31.40" lengthAdjust="spacingAndGlyphs" stroke="#000" stroke-width="0.3">TGF-β</text>
<text x="524.90" y="455.60" font-family='"Liberation Sans", sans-serif' font-size="12.8" font-weight="bold" text-anchor="middle" textLength="26.20" lengthAdjust="spacingAndGlyphs" stroke="#000" stroke-width="0.3">IL-1β</text>
<text x="580.30" y="455.60" font-family='"Liberation Sans", sans-serif' font-size="12.8" font-weight="bold" text-anchor="middle" textLength="23.10" lengthAdjust="spacingAndGlyphs" stroke="#000" stroke-width="0.3">CRP</text>
<line x1="400.40" y1="352.50" x2="434.00" y2="352.50" stroke="#000" stroke-width="1.1" stroke-linecap="butt"/>
<line x1="400.40" y1="349.80" x2="400.40" y2="355.20" stroke="#000" stroke-width="1.1" stroke-linecap="butt"/>
<line x1="434.00" y1="349.80" x2="434.00" y2="355.20" stroke="#000" stroke-width="1.1" stroke-linecap="butt"/>
<text x="416.40" y="349.40" font-family='"Liberation Sans", sans-serif' font-size="10.0" font-weight="normal" text-anchor="middle" >ns</text>
<line x1="399.30" y1="372.00" x2="413.70" y2="372.00" stroke="#000" stroke-width="1.1" stroke-linecap="butt"/>
<line x1="399.30" y1="369.30" x2="399.30" y2="374.70" stroke="#000" stroke-width="1.1" stroke-linecap="butt"/>
<line x1="413.70" y1="369.30" x2="413.70" y2="374.70" stroke="#000" stroke-width="1.1" stroke-linecap="butt"/>
<line x1="417.70" y1="372.00" x2="432.10" y2="372.00" stroke="#000" stroke-width="1.1" stroke-linecap="butt"/>
<line x1="417.70" y1="369.30" x2="417.70" y2="374.70" stroke="#000" stroke-width="1.1" stroke-linecap="butt"/>
<line x1="432.10" y1="369.30" x2="432.10" y2="374.70" stroke="#000" stroke-width="1.1" stroke-linecap="butt"/>
<text x="408.00" y="369.40" font-family='"Liberation Sans", sans-serif' font-size="10.0" font-weight="normal" text-anchor="middle" >ns</text>
<text x="425.50" y="369.40" font-family='"Liberation Sans", sans-serif' font-size="10.0" font-weight="normal" text-anchor="middle" >ns</text>
<line x1="454.40" y1="381.50" x2="487.20" y2="381.50" stroke="#000" stroke-width="1.1" stroke-linecap="butt"/>
<line x1="454.40" y1="378.80" x2="454.40" y2="384.20" stroke="#000" stroke-width="1.1" stroke-linecap="butt"/>
<line x1="487.20" y1="378.80" x2="487.20" y2="384.20" stroke="#000" stroke-width="1.1" stroke-linecap="butt"/>
<text x="472.00" y="380.25" font-family='"Liberation Sans", sans-serif' font-size="8.5" font-weight="normal" text-anchor="middle" >*</text>
<line x1="453.10" y1="401.70" x2="467.50" y2="401.70" stroke="#000" stroke-width="1.1" stroke-linecap="butt"/>
<line x1="453.10" y1="399.00" x2="453.10" y2="404.40" stroke="#000" stroke-width="1.1" stroke-linecap="butt"/>
<line x1="467.50" y1="399.00" x2="467.50" y2="404.40" stroke="#000" stroke-width="1.1" stroke-linecap="butt"/>
<line x1="471.50" y1="401.70" x2="485.90" y2="401.70" stroke="#000" stroke-width="1.1" stroke-linecap="butt"/>
<line x1="471.50" y1="399.00" x2="471.50" y2="404.40" stroke="#000" stroke-width="1.1" stroke-linecap="butt"/>
<line x1="485.90" y1="399.00" x2="485.90" y2="404.40" stroke="#000" stroke-width="1.1" stroke-linecap="butt"/>
<text x="461.00" y="398.80" font-family='"Liberation Sans", sans-serif' font-size="10.0" font-weight="normal" text-anchor="middle" >ns</text>
<text x="478.60" y="400.25" font-family='"Liberation Sans", sans-serif' font-size="8.5" font-weight="normal" text-anchor="middle" >*</text>
<line x1="510.50" y1="364.10" x2="544.60" y2="364.10" stroke="#000" stroke-width="1.1" stroke-linecap="butt"/>
<line x1="510.50" y1="361.40" x2="510.50" y2="366.80" stroke="#000" stroke-width="1.1" stroke-linecap="butt"/>
<line x1="544.60" y1="361.40" x2="544.60" y2="366.80" stroke="#000" stroke-width="1.1" stroke-linecap="butt"/>
<text x="527.00" y="362.45" font-family='"Liberation Sans", sans-serif' font-size="8.5" font-weight="normal" text-anchor="middle" >*</text>
<line x1="510.00" y1="382.80" x2="524.40" y2="382.80" stroke="#000" stroke-width="1.1" stroke-linecap="butt"/>
<line x1="510.00" y1="380.10" x2="510.00" y2="385.50" stroke="#000" stroke-width="1.1" stroke-linecap="butt"/>
<line x1="524.40" y1="380.10" x2="524.40" y2="385.50" stroke="#000" stroke-width="1.1" stroke-linecap="butt"/>
<line x1="528.10" y1="382.80" x2="542.50" y2="382.80" stroke="#000" stroke-width="1.1" stroke-linecap="butt"/>
<line x1="528.10" y1="380.10" x2="528.10" y2="385.50" stroke="#000" stroke-width="1.1" stroke-linecap="butt"/>
<line x1="542.50" y1="380.10" x2="542.50" y2="385.50" stroke="#000" stroke-width="1.1" stroke-linecap="butt"/>
<text x="517.00" y="382.05" font-family='"Liberation Sans", sans-serif' font-size="8.5" font-weight="normal" text-anchor="middle" >*</text>
<text x="535.40" y="380.70" font-family='"Liberation Sans", sans-serif' font-size="10.0" font-weight="normal" text-anchor="middle" >ns</text>
<line x1="565.10" y1="268.80" x2="599.00" y2="268.80" stroke="#000" stroke-width="1.1" stroke-linecap="butt"/>
<line x1="565.10" y1="266.10" x2="565.10" y2="271.50" stroke="#000" stroke-width="1.1" stroke-linecap="butt"/>
<line x1="599.00" y1="266.10" x2="599.00" y2="271.50" stroke="#000" stroke-width="1.1" stroke-linecap="butt"/>
<text x="581.50" y="267.80" font-family='"Liberation Sans", sans-serif' font-size="9.2" font-weight="normal" text-anchor="middle" >**</text>
<line x1="564.60" y1="288.00" x2="578.60" y2="288.00" stroke="#000" stroke-width="1.1" stroke-linecap="butt"/>
<line x1="564.60" y1="285.30" x2="564.60" y2="290.70" stroke="#000" stroke-width="1.1" stroke-linecap="butt"/>
<line x1="578.60" y1="285.30" x2="578.60" y2="290.70" stroke="#000" stroke-width="1.1" stroke-linecap="butt"/>
<line x1="582.00" y1="288.00" x2="596.90" y2="288.00" stroke="#000" stroke-width="1.1" stroke-linecap="butt"/>
<line x1="582.00" y1="285.30" x2="582.00" y2="290.70" stroke="#000" stroke-width="1.1" stroke-linecap="butt"/>
<line x1="596.90" y1="285.30" x2="596.90" y2="290.70" stroke="#000" stroke-width="1.1" stroke-linecap="butt"/>
<text x="572.10" y="287.60" font-family='"Liberation Sans", sans-serif' font-size="9.2" font-weight="normal" text-anchor="middle" >**</text>
<text x="589.80" y="285.40" font-family='"Liberation Sans", sans-serif' font-size="10.0" font-weight="normal" text-anchor="middle" >ns</text>
<rect x="609.00" y="280.20" width="15.80" height="8.30" fill="#000" stroke="#000" stroke-width="1.2"/>
<rect x="609.00" y="298.20" width="15.80" height="8.40" fill="#fff" stroke="#000" stroke-width="1.2"/>
<rect x="609.00" y="318.20" width="15.80" height="8.10" fill="#e0e0e0" stroke="#000" stroke-width="1.2"/>
<text x="633.70" y="292.50" font-family='"Liberation Serif", serif' font-size="14.5" font-weight="normal" text-anchor="start" textLength="27.30" lengthAdjust="spacingAndGlyphs" >ApoE</text>
<text x="661.20" y="286.50" font-family='"Liberation Serif", serif' font-size="10.5" font-weight="normal" text-anchor="start" textLength="8.40" lengthAdjust="spacingAndGlyphs" >-/-</text>
<text x="633.90" y="306.20" font-family='"Liberation Serif", serif' font-size="14.5" font-weight="normal" text-anchor="start" textLength="38.50" lengthAdjust="spacingAndGlyphs" >Therapy</text>
<text x="633.70" y="327.10" font-family='"Liberation Serif", serif' font-size="14.5" font-weight="normal" text-anchor="start" textLength="19.80" lengthAdjust="spacingAndGlyphs" >C57</text>
</g>
</svg>
</body></html>
